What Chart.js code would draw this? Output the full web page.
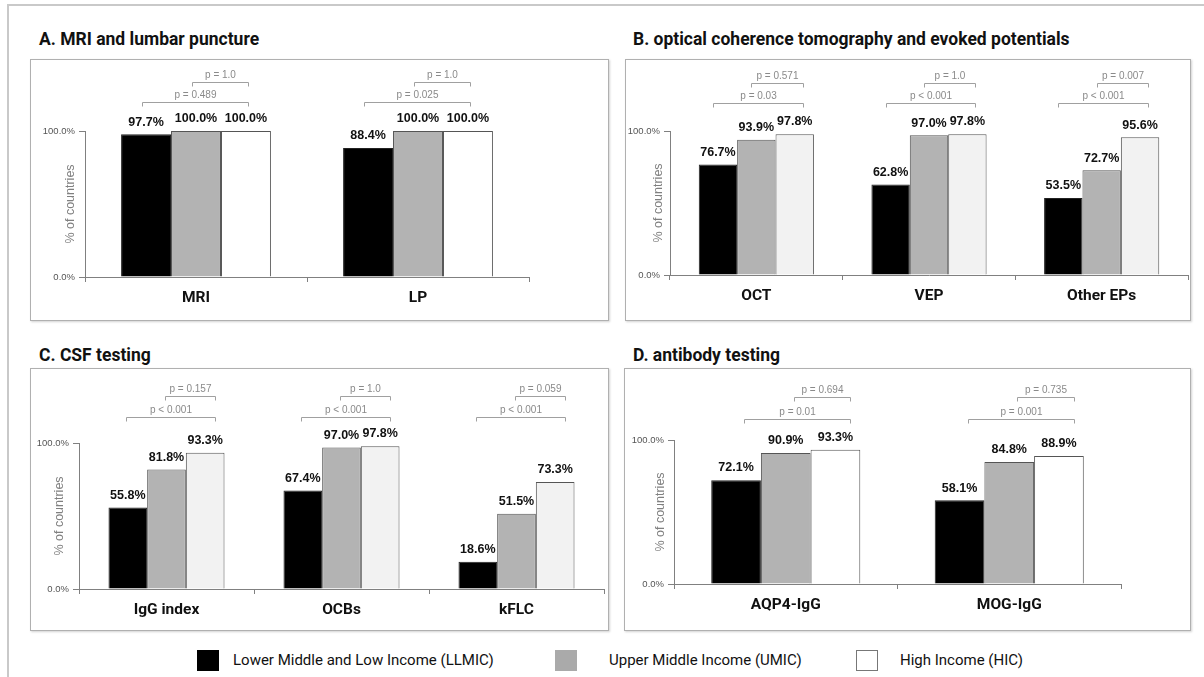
<!DOCTYPE html>
<html>
<head>
<meta charset="utf-8">
<script src="https://cdn.jsdelivr.net/npm/chart.js@4.4.1/dist/chart.umd.min.js"></script>
<style>
  html,body{margin:0;padding:0;background:#fff;}
  body{width:1204px;height:677px;position:relative;overflow:hidden;font-family:Roboto,"Liberation Sans",sans-serif;}
  .frameTop{position:absolute;left:7px;top:4px;width:1197px;height:2px;background:#c9c9c9;}
  .frameLeft{position:absolute;left:7px;top:4px;width:2px;height:673px;background:#c9c9c9;}
  .box{position:absolute;border:1px solid #b0b0b0;box-shadow:1px 1px 2px rgba(0,0,0,0.18);box-sizing:border-box;background:#fff;}
  .title{position:absolute;font-weight:bold;font-size:17.5px;color:#111;white-space:nowrap;line-height:20px;}
  canvas{position:absolute;}
  .lg{position:absolute;top:650px;width:22px;height:21px;box-sizing:border-box;}
  .lgt{position:absolute;top:650px;font-size:15px;color:#111;white-space:nowrap;line-height:20px;}
</style>
</head>
<body>
<div class="frameTop"></div>
<div class="frameLeft"></div>

<script>
// ---------- data ----------
const seriesNames = ['Lower Middle and Low Income (LLMIC)', 'Upper Middle Income (UMIC)', 'High Income (HIC)'];

const catsA  = ['MRI', 'LP'];
const llmicA = [97.7, 88.4];
const umicA  = [100.0, 100.0];
const hicA   = [100.0, 100.0];
const pLongA  = ['p = 0.489', 'p = 0.025'];
const pShortA = ['p = 1.0', 'p = 1.0'];

const catsB  = ['OCT', 'VEP', 'Other EPs'];
const llmicB = [76.7, 62.8, 53.5];
const umicB  = [93.9, 97.0, 72.7];
const hicB   = [97.8, 97.8, 95.6];
const pLongB  = ['p = 0.03', 'p < 0.001', 'p < 0.001'];
const pShortB = ['p = 0.571', 'p = 1.0', 'p = 0.007'];

const catsC  = ['IgG index', 'OCBs', 'kFLC'];
const llmicC = [55.8, 67.4, 18.6];
const umicC  = [81.8, 97.0, 51.5];
const hicC   = [93.3, 97.8, 73.3];
const pLongC  = ['p < 0.001', 'p < 0.001', 'p < 0.001'];
const pShortC = ['p = 0.157', 'p = 1.0', 'p = 0.059'];

const catsD  = ['AQP4-IgG', 'MOG-IgG'];
const llmicD = [72.1, 58.1];
const umicD  = [90.9, 84.8];
const hicD   = [93.3, 88.9];
const pLongD  = ['p = 0.01', 'p = 0.001'];
const pShortD = ['p = 0.694', 'p = 0.735'];

const yTicks = [0, 100];

// ---------- layout / style ----------
const panels = [
  { title:'A. MRI and lumbar puncture', tx:39, ty:29,
    box:{x:30,y:59,w:579,h:262}, area:{l:85,r:529,t:131,b:277},
    cats:catsA, s:[llmicA,umicA,hicA], pl:pLongA, ps:pShortA,
    white:'#ffffff', catPct:0.675, yTitleDx:14, br:{lo:29, hi:49, l:-4, r:2} },
  { title:'B. optical coherence tomography and evoked potentials', tx:633, ty:29,
    box:{x:625,y:59,w:566,h:262}, area:{l:670,r:1188,t:131,b:275},
    cats:catsB, s:[llmicB,umicB,hicB], pl:pLongB, ps:pShortB,
    white:'#f2f2f2', catPct:0.667, yTitleDx:11, br:{lo:28, hi:48, l:-5, r:8} },
  { title:'C. CSF testing', tx:39, ty:345,
    box:{x:30,y:368,w:579,h:263}, area:{l:79,r:604,t:443,b:589},
    cats:catsC, s:[llmicC,umicC,hicC], pl:pLongC, ps:pShortC,
    white:'#f2f2f2', catPct:0.663, yTitleDx:19, br:{lo:26, hi:47, l:-2, r:10} },
  { title:'D. antibody testing', tx:633, ty:345,
    box:{x:624,y:368,w:567,h:263}, area:{l:674,r:1121,t:440,b:584},
    cats:catsD, s:[llmicD,umicD,hicD], pl:pLongD, ps:pShortD,
    white:'#ffffff', catPct:0.667, yTitleDx:13, br:{lo:21, hi:43, l:8, r:15} }
];

const barColors = ['#000000', '#b3b3b3'];

const annotPlugin = {
  id:'annot',
  afterDatasetsDraw(chart, args, opts){
    const p = opts.panel;
    const ctx = chart.ctx;
    const ca = chart.chartArea;
    ctx.save();
    // value labels
    ctx.fillStyle = '#111';
    ctx.font = 'bold 12.5px "Liberation Sans", Arial, sans-serif';
    ctx.textAlign = 'center';
    ctx.textBaseline = 'bottom';
    chart.data.datasets.forEach((ds, di) => {
      const meta = chart.getDatasetMeta(di);
      meta.data.forEach((el, i) => {
        ctx.fillText(ds.data[i].toFixed(1) + '%', el.x, el.y - 6);
      });
    });
    // p-value brackets
    const m0 = chart.getDatasetMeta(0), m1 = chart.getDatasetMeta(1), m2 = chart.getDatasetMeta(2);
    ctx.strokeStyle = '#a0a0a0';
    ctx.lineWidth = 1;
    ctx.fillStyle = '#8a8a8a';
    ctx.font = '10px "Liberation Sans", Arial, sans-serif';
    ctx.textBaseline = 'bottom';
    const bracket = (x1, x2, y, txt) => {
      x1 = Math.round(x1) + 0.5; x2 = Math.round(x2) + 0.5; y = Math.round(y) + 0.5;
      ctx.beginPath();
      ctx.moveTo(x1, y + 4); ctx.lineTo(x1, y); ctx.lineTo(x2, y); ctx.lineTo(x2, y + 4);
      ctx.stroke();
      ctx.fillText(txt, (x1 + x2) / 2, y - 2);
    };
    p.cats.forEach((c, i) => {
      const xb = m0.data[i].x, xg = m1.data[i].x, xw = m2.data[i].x;
      bracket(xb + p.br.l, xw + p.br.r, ca.top - p.br.lo, p.pl[i]);
      bracket(xg + p.br.l, xw + p.br.r, ca.top - p.br.hi, p.ps[i]);
    });
    // y-axis title
    ctx.save();
    ctx.translate(ca.left - p.yTitleDx, (ca.top + ca.bottom) / 2);
    ctx.rotate(-Math.PI / 2);
    ctx.fillStyle = '#808080';
    ctx.font = '12.5px "Liberation Sans", Arial, sans-serif';
    ctx.textAlign = 'center';
    ctx.textBaseline = 'middle';
    ctx.fillText('% of countries', 0, 0);
    ctx.restore();
    ctx.restore();
  }
};

panels.forEach((p, k) => {
  const box = document.createElement('div');
  box.className = 'box';
  box.style.left = p.box.x + 'px'; box.style.top = p.box.y + 'px';
  box.style.width = p.box.w + 'px'; box.style.height = p.box.h + 'px';
  document.body.appendChild(box);

  const t = document.createElement('div');
  t.className = 'title';
  t.textContent = p.title;
  t.style.left = p.tx + 'px'; t.style.top = p.ty + 'px';
  document.body.appendChild(t);

  const cv = document.createElement('canvas');
  cv.width = p.box.w; cv.height = p.box.h;
  cv.style.left = p.box.x + 'px'; cv.style.top = p.box.y + 'px';
  cv.style.width = p.box.w + 'px'; cv.style.height = p.box.h + 'px';
  document.body.appendChild(cv);

  new Chart(cv, {
    type:'bar',
    data:{
      labels:p.cats,
      datasets:[
        {label:seriesNames[0], data:p.s[0], backgroundColor:barColors[0], borderColor:'#222', borderWidth:1, clip:false},
        {label:seriesNames[1], data:p.s[1], backgroundColor:barColors[1], borderColor:'#555', borderWidth:1, clip:false},
        {label:seriesNames[2], data:p.s[2], backgroundColor:p.white, borderColor:'#555', borderWidth:1, clip:false}
      ]
    },
    options:{
      responsive:false, animation:false, devicePixelRatio:1,
      layout:{padding:{left:0, top:p.area.t - p.box.y, right:(p.box.x + p.box.w) - p.area.r, bottom:0}},
      datasets:{bar:{categoryPercentage:p.catPct, barPercentage:1}},
      plugins:{legend:{display:false}, tooltip:{enabled:false}, annot:{panel:p}},
      scales:{
        x:{
          grid:{display:true, drawOnChartArea:false, offset:true, tickLength:5, color:'#808080'},
          border:{display:true, color:'#808080'},
          ticks:{font:{family:'Roboto', weight:'bold', size:15.5}, color:'#111', padding:7, maxRotation:0, autoSkip:false},
          afterFit(s){ s.height = (p.box.y + p.box.h) - p.area.b; }
        },
        y:{
          min:0, max:100,
          afterBuildTicks(s){ s.ticks = yTicks.map(v => ({value:v})); },
          ticks:{callback:v => Number(v).toFixed(1) + '%', font:{family:'Liberation Sans', size:9.5}, color:'#555', padding:4},
          grid:{display:true, drawOnChartArea:false, tickLength:6, color:'#808080'},
          border:{display:true, color:'#808080'},
          afterFit(s){ s.width = p.area.l - p.box.x; }
        }
      }
    },
    plugins:[annotPlugin]
  });
});

// ---------- legend ----------
const legendItems = [
  {sq:197, tx:233, bg:'#000000', bd:'#000000'},
  {sq:555, tx:609, bg:'#aaaaaa', bd:'#aaaaaa'},
  {sq:856, tx:900, bg:'#ffffff', bd:'#777777'}
];
legendItems.forEach((it, i) => {
  const s = document.createElement('div');
  s.className = 'lg';
  s.style.left = it.sq + 'px';
  s.style.background = it.bg;
  s.style.border = '1px solid ' + it.bd;
  document.body.appendChild(s);
  const t = document.createElement('div');
  t.className = 'lgt';
  t.style.left = it.tx + 'px';
  t.textContent = seriesNames[i];
  document.body.appendChild(t);
});
</script>
</body>
</html>
